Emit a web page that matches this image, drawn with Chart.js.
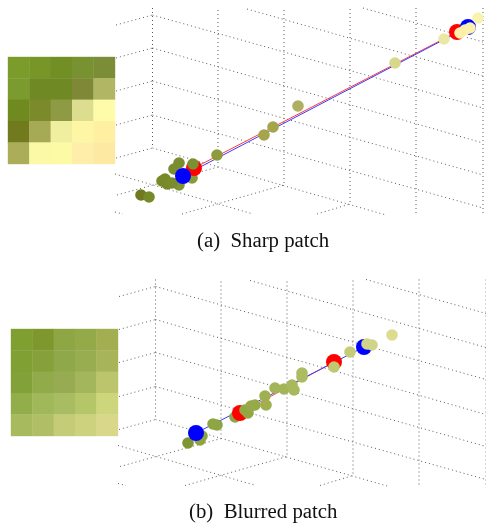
<!DOCTYPE html>
<html>
<head>
<meta charset="utf-8">
<script src="https://cdn.jsdelivr.net/npm/chart.js@4"></script>
<style>
  html, body { margin: 0; padding: 0; background: #fff; }
  body { position: relative; width: 486px; height: 523px; overflow: hidden; }
  canvas { position: absolute; left: 0; }
  #chart-a { top: 0; }
  #chart-b { top: 263px; }
  .caption { position: absolute; left: 0; font: 20.8px "Liberation Serif", serif; color: #111; white-space: pre; }
  #caption-a { left: 197px; top: 228px; }
  #caption-b { left: 189px; top: 499px; }
</style>
</head>
<body>
<canvas id="chart-a" width="486" height="263"></canvas>
<canvas id="chart-b" width="486" height="260"></canvas>
<div class="caption" id="caption-a">(a)  Sharp patch</div>
<div class="caption" id="caption-b">(b)  Blurred patch</div>
<script>
// 3D box drawn as dotted segments, nulls split the segments (panel a units)
const gridX = [152.5, 152.5, null, 218, 218, null, 284, 284, null, 350, 350, null, 416, 416, null, 483, 483, null,
  116, 152.5, null, 116, 152.5, null, 116, 152.5, null, 116, 152.5, null, 116, 152.5, null,
  152.5, 483, null, 152.5, 483, null, 152.5, 483, null, 152.5, 483, null, 152.5, 386, null,
  247, 483, null, 363, 483, null, 115, 253, null, 115, 123, null,
  117, 218, null, 182, 284, null, 317, 350];
const gridY = [8, 148, null, 10, 166, null, 10, 185, null, 9, 205, null, 8, 215, null, 8, 215, null,
  25, 15, null, 58, 48, null, 91, 81, null, 125, 115, null, 158, 148, null,
  15, 108, null, 48, 143, null, 81, 175, null, 115, 208, null, 148, 215, null,
  9, 76, null, 8, 42, null, 174, 214, null, 212, 214, null,
  195, 167, null, 214, 185, null, 214, 204];
const gridShiftBX = 3;
const gridShiftBY = 271.5;

// patch cell colours, one row per list
const sharpPatch = [
  ["#7b9b2a", "#789628", "#728f26", "#789232", "#7c8d37"],
  ["#7c9b2e", "#6f8a25", "#6f8a25", "#7f8837", "#b1b665"],
  ["#6f8a1e", "#7b8a2a", "#8f9a44", "#dddd8f", "#fefca8"],
  ["#717a1c", "#a7aa55", "#f0ef9f", "#fff6a5", "#fdf0a0"],
  ["#abad58", "#fbf9a5", "#fdfaa5", "#feeeaa", "#fde9a2"]
];
const blurredPatch = [
  ["#7f9f30", "#7f982e", "#8fa645", "#94aa48", "#a3ae50"],
  ["#81a034", "#86a03a", "#8fa84a", "#98ac50", "#a8b458"],
  ["#82a138", "#92ab4a", "#97ac52", "#a4b65c", "#bcc46c"],
  ["#92ae4a", "#a0b85a", "#a8bc62", "#b4c668", "#ced67c"],
  ["#a8ba5e", "#b0bf66", "#c4cc78", "#ccd27e", "#d9d88a"]
];
const sharpPatchColsX = [18.7, 40.1, 61.5, 82.9, 104.3];
const sharpPatchRowsY = [67.7, 89.1, 110.5, 131.9, 153.3];
const blurredPatchColsX = [21.7, 43.1, 64.5, 85.9, 107.3];
const blurredPatchRowsY = [339.7, 361.1, 382.5, 403.9, 425.3];

// panel a
const sharpLowX = [141, 149, 179, 174, 192, 179, 162, 165, 167, 172, 217];
const sharpLowY = [195, 197, 163, 169, 178, 185, 181, 179, 184, 183, 155];
const sharpLowColors = ["#70791e", "#778a2a", "#7a8d30", "#7a8d30", "#8a9a3a", "#7f9433", "#768a28", "#768a28", "#768a28", "#7a8a2c", "#8f9a3c"];
const sharpHighX = [193, 264, 273, 298, 395, 444, 460, 465, 470, 478];
const sharpHighY = [164, 135, 127, 106, 63, 39, 33, 30, 28, 18];
const sharpHighColors = ["#7c8f33", "#a5a64c", "#a5a64c", "#aeb060", "#d8d88c", "#ebe8a5", "#fdeeaa", "#fdeeaa", "#fcf0ac", "#f8f4b0"];
const sharpRedX = [194, 457];
const sharpRedY = [168, 32];
const sharpBlueX = [183, 468];
const sharpBlueY = [176, 27];

// panel b
const blurredLowX = [188, 200, 202, 213, 217, 235];
const blurredLowY = [443, 440, 436, 424, 425, 417];
const blurredLowColors = ["#7f9433", "#8ea53e", "#8ea53e", "#8fa543", "#8fa543", "#8fa543"];
const blurredHighX = [245, 248, 251, 255, 265, 266, 275, 284, 292, 294, 302, 302, 334, 350, 367, 372, 392];
const blurredHighY = [410, 413, 406, 405, 396, 405, 388, 389, 385, 390, 373, 377, 367, 352, 344, 345, 335];
const blurredHighColors = ["#93a843", "#93a843", "#96aa48", "#96aa48", "#a0b050", "#a0b050", "#a4b458", "#a4b458", "#a8b85c", "#a8b85c", "#acbc60", "#acbc60", "#c0c870", "#c4cc78", "#d0d488", "#d0d488", "#dcdc8e"];
const blurredRedX = [240, 334];
const blurredRedY = [413, 362];
const blurredBlueX = [196, 364];
const blurredBlueY = [433, 347];

const toPoints = (xs, ys) => xs.map((x, i) => ({ x: x, y: ys[i] }));

function patchDataset(cells, colsX, rowsY) {
    const points = [];
    const colors = [];
    cells.forEach((row, r) => row.forEach((c, k) => {
        points.push({ x: colsX[k], y: rowsY[r] });
        colors.push(c);
    }));
    return { type: "scatter", data: points, pointStyle: "rect", pointRadius: 15.4, pointBorderWidth: 0, pointBackgroundColor: colors, order: 6 };
}

function lineDataset(xs, ys, color) {
    return { type: "line", data: toPoints(xs, ys), borderColor: color, borderWidth: 1, pointRadius: 0, order: 4 };
}

function dotsDataset(xs, ys, colors, radius, order) {
    return { type: "scatter", data: toPoints(xs, ys), pointRadius: radius, pointBorderWidth: 0, pointBackgroundColor: colors, order: order };
}

function drawPanel(id, yMin, yMax, gx, gy, patch, low, high, red, blue) {
    new Chart(document.getElementById(id), {
        type: "scatter",
        data: {
            datasets: [
                { type: "line", data: toPoints(gx, gy), borderColor: "#5a5a5a", borderWidth: 1, borderDash: [1, 3], pointRadius: 0, spanGaps: false, order: 5 },
                patch,
                lineDataset(blue[0], blue[1], "#3a3aff"),
                lineDataset(red[0], red[1], "#ff3a3a"),
                dotsDataset(low[0], low[1], low[2], 5.8, 3),
                dotsDataset([red[0][0], red[0][1]], [red[1][0], red[1][1]], "#ff0000", 8, 2),
                dotsDataset([blue[0][0], blue[0][1]], [blue[1][0], blue[1][1]], "#0000ff", 8, 1),
                dotsDataset(high[0], high[1], high[2], 5.8, 0)
            ]
        },
        options: {
            responsive: false,
            animation: false,
            layout: { padding: 0, autoPadding: false },
            plugins: { legend: { display: false }, tooltip: { enabled: false } },
            scales: {
                x: { type: "linear", min: 0, max: 486, display: false },
                y: { type: "linear", min: yMin, max: yMax, reverse: true, display: false }
            }
        }
    });
}

drawPanel("chart-a", 0, 263, gridX, gridY,
    patchDataset(sharpPatch, sharpPatchColsX, sharpPatchRowsY),
    [sharpLowX, sharpLowY, sharpLowColors],
    [sharpHighX, sharpHighY, sharpHighColors],
    [sharpRedX, sharpRedY], [sharpBlueX, sharpBlueY]);

drawPanel("chart-b", 263, 523,
    gridX.map(v => v === null ? null : v + gridShiftBX),
    gridY.map(v => v === null ? null : v + gridShiftBY),
    patchDataset(blurredPatch, blurredPatchColsX, blurredPatchRowsY),
    [blurredLowX, blurredLowY, blurredLowColors],
    [blurredHighX, blurredHighY, blurredHighColors],
    [blurredRedX, blurredRedY], [blurredBlueX, blurredBlueY]);
</script>
</body>
</html>
